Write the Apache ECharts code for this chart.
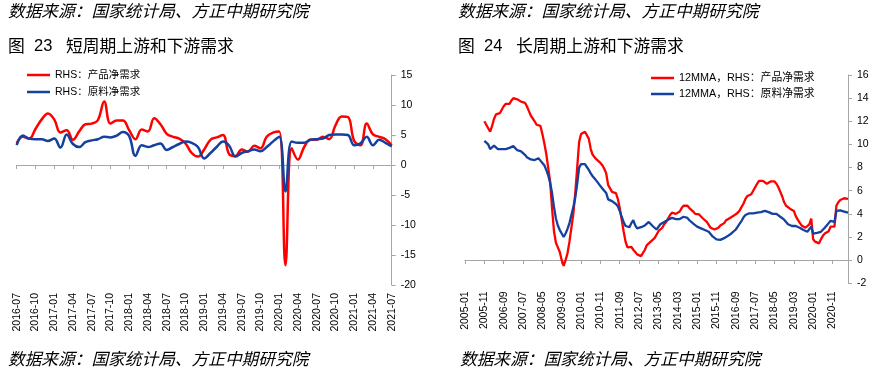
<!DOCTYPE html>
<html><head><meta charset="utf-8">
<script src="https://cdn.jsdelivr.net/npm/echarts@6/dist/echarts.min.js"></script>
<style>html,body{margin:0;padding:0;background:#fff}#c{width:884px;height:382px}</style>
</head><body><div id="c"></div>
<script>
// ---------- data ----------
const shortStart = [2016, 7], shortEnd = [2021, 7];
const longStart = [2005, 1], longEnd = [2021, 7];
const shortProduct = [3.6,4.7,4.4,6.0,7.6,8.6,7.6,5.4,5.8,4.2,5.6,6.8,6.9,7.5,10.6,6.9,7.4,7.4,5.8,4.3,5.9,5.6,7.8,6.8,5.2,4.7,4.4,3.6,2.0,1.4,2.6,4.2,4.6,5.0,1.8,1.5,2.6,2.2,3.2,2.8,4.7,5.4,5.6,-16.7,2.8,0.9,3.0,4.2,4.2,4.7,4.3,6.6,8.1,8.0,4.0,3.3,6.9,5.1,4.7,4.3,3.3];
const shortMaterial = [3.3,4.9,4.4,4.3,4.3,4.0,4.4,2.9,5.1,3.5,3.0,3.8,4.1,4.3,4.7,4.6,4.9,5.5,4.8,1.5,3.3,3.0,3.3,3.6,2.5,3.0,3.5,3.9,3.7,3.0,1.1,2.0,3.0,3.9,3.2,1.4,2.0,2.3,2.6,2.3,3.0,3.9,4.7,-4.4,3.9,3.7,3.7,4.2,4.3,4.4,5.0,5.1,5.1,5.0,3.3,3.6,4.7,3.3,4.2,3.7,3.1];
const longFirstMonth = [2005, 11];
const longProduct = [12.0,11.7,11.4,11.1,11.6,12.2,12.6,12.6,12.7,13.0,13.3,13.5,13.6,13.5,13.8,14.0,14.1,13.9,13.8,13.7,13.8,13.6,13.3,12.9,12.5,12.4,12.0,11.7,11.8,11.6,10.9,10.1,9.2,8.0,6.8,4.5,2.5,1.5,1.1,0.7,0.0,-0.5,0.0,0.6,1.6,2.8,4.0,5.8,8.0,10.2,10.9,11.0,11.1,11.1,10.5,9.6,9.1,8.9,8.7,8.6,8.4,8.2,7.9,7.5,6.5,6.2,5.9,5.9,5.8,5.3,4.5,3.5,2.5,1.6,1.1,1.0,1.15,0.9,0.7,0.5,0.4,0.35,0.45,0.9,1.3,1.4,1.6,1.7,1.9,2.2,2.5,2.5,2.8,3.1,3.3,3.6,3.9,4.1,4.1,4.0,4.0,4.2,4.5,4.7,4.75,4.7,4.5,4.35,4.2,4.0,3.9,3.95,3.85,3.6,3.45,3.3,3.05,2.8,2.7,2.65,2.65,2.8,3.0,2.9,3.2,3.45,3.55,3.65,3.75,3.85,3.95,4.1,4.3,4.6,4.9,5.3,5.55,5.55,5.7,6.0,6.3,6.6,6.85,6.95,6.85,6.7,6.6,6.7,6.8,6.85,6.8,6.6,6.3,5.9,5.5,5.0,4.7,4.55,4.45,4.4,4.25,3.8,3.5,3.25,3.0,2.9,2.8,2.8,3.1,3.6,1.8,1.6,1.45,1.45,1.8,2.1,2.3,2.4,2.5,2.9,3.05,2.9,4.7,5.0,5.2,5.35,5.35,5.3,5.3];
const longMaterial = [10.3,10.2,10.0,9.6,9.6,9.9,9.8,9.6,9.7,9.6,9.7,9.6,9.7,9.7,9.8,9.85,9.7,9.5,9.5,9.4,9.3,9.1,8.9,8.8,8.7,8.65,8.65,8.8,8.8,8.6,8.4,8.2,7.8,7.35,6.7,5.8,4.6,3.6,3.0,2.6,2.3,2.0,2.3,2.7,3.2,3.9,4.6,5.4,6.6,8.0,8.3,8.3,8.3,8.05,7.8,7.5,7.25,7.05,6.85,6.7,6.4,6.2,6.1,5.8,5.25,5.15,5.1,5.0,4.85,4.65,4.25,3.75,3.3,2.95,2.8,2.85,3.2,3.45,3.0,2.75,2.8,2.85,2.9,3.0,3.15,3.3,3.15,2.95,2.8,2.65,2.8,3.1,3.2,3.3,3.45,3.5,3.6,3.65,3.7,3.55,3.45,3.55,3.7,3.75,3.8,3.65,3.45,3.3,3.15,3.0,2.9,2.8,2.75,2.65,2.6,2.5,2.45,2.3,2.05,1.9,1.8,1.8,1.75,1.7,1.9,2.0,2.1,2.25,2.35,2.5,2.65,2.9,3.15,3.4,3.7,3.9,4.0,4.05,4.05,4.05,4.05,4.1,4.1,4.15,4.2,4.25,4.3,4.15,4.05,4.0,4.05,4.0,3.85,3.75,3.6,3.5,3.35,3.1,2.95,2.95,3.0,2.95,2.9,2.8,2.7,2.6,2.5,2.45,2.6,2.9,2.3,2.3,2.35,2.35,2.45,2.6,2.8,3.0,3.2,3.4,3.45,3.3,4.25,4.3,4.3,4.3,4.2,4.15,4.1];
const leftTicks = [-20, 15, 5];   // min, max, interval
const rightTicks = [-2, 16, 2];
const names = {
  sP: 'RHS：产品净需求', sM: 'RHS：原料净需求',
  lP: '12MMA，RHS：产品净需求', lM: '12MMA，RHS：原料净需求'
};
const texts = {
  source: '数据来源：国家统计局、方正中期研究院',
  t1num: '23', t1: '短周期上游和下游需求',
  t2num: '24', t2: '长周期上游和下游需求', fig: '图'
};
// ---------- helpers ----------
function monthList(a, b) {
  const out = []; let y = a[0], m = a[1];
  while (y < b[0] || (y === b[0] && m <= b[1])) {
    out.push(y + '-' + (m < 10 ? '0' + m : m)); m++; if (m > 12) { m = 1; y++; }
  }
  return out;
}
const shortCats = monthList(shortStart, shortEnd);
const longCats = monthList(longStart, longEnd);
const pad = longCats.indexOf(longFirstMonth[0] + '-' + (longFirstMonth[1] < 10 ? '0' : '') + longFirstMonth[1]);
const padArr = new Array(pad).fill(null);
const RED = '#FF0000', BLUE = '#1440A0', GREY = '#A6A6A6';
const FONT = '"Liberation Sans", Arial, "Noto Sans CJK SC", sans-serif';
const CJK = '"Noto Sans CJK SC", sans-serif';

function xAxes(gi, cats, interval) {
  return [
    { type: 'category', gridIndex: gi, data: cats, boundaryGap: false, position: 'bottom',
      axisLine: { onZero: true, lineStyle: { color: GREY, width: 1 } },
      axisTick: { show: true, interval: interval, length: 4, lineStyle: { color: GREY } },
      axisLabel: { show: false } },
    { type: 'category', gridIndex: gi, data: cats, boundaryGap: false, position: 'bottom',
      axisLine: { show: false, onZero: false }, axisTick: { show: false },
      axisLabel: { interval: interval, rotate: 90, margin: 8, fontSize: 10.5, color: '#000', fontFamily: FONT } }
  ];
}
function yAxis(gi, t) {
  return { type: 'value', gridIndex: gi, position: 'right', min: t[0], max: t[1], interval: t[2],
    splitLine: { show: false },
    axisLine: { show: true, onZero: false, lineStyle: { color: GREY } },
    axisTick: { show: true, length: 4, inside: false, lineStyle: { color: GREY } },
    axisLabel: { margin: 9, fontSize: 10.5, color: '#000', fontFamily: FONT } };
}
const chart = echarts.init(document.getElementById('c'), null, { renderer: 'canvas' });
const srcFont = 'italic 16.7px ' + CJK;
const titleFont = '16.8px ' + CJK;
chart.setOption({
  animation: false,
  backgroundColor: '#fff',
  grid: [
    { left: 16.7, top: 75, width: 375, height: 210 },
    { left: 465, top: 75, width: 383, height: 208.3 }
  ],
  xAxis: xAxes(0, shortCats, 2).concat(xAxes(1, longCats, 9)),
  yAxis: [yAxis(0, leftTicks), yAxis(1, rightTicks)],
  legend: [
    { data: [names.sP, names.sM], orient: 'vertical', left: 27, top: 69, padding: 0, icon: 'rect', itemWidth: 23, itemHeight: 2.5,
      itemGap: 5, textStyle: { fontSize: 10.5, lineHeight: 12, color: '#000', fontFamily: FONT } },
    { data: [names.lP, names.lM], orient: 'vertical', left: 651, top: 72, padding: 0, icon: 'rect', itemWidth: 23, itemHeight: 2.5,
      itemGap: 4, textStyle: { fontSize: 10.8, lineHeight: 12, color: '#000', fontFamily: FONT } }
  ],
  series: [
    { name: names.sP, type: 'line', xAxisIndex: 0, yAxisIndex: 0, data: shortProduct, smooth: 0.4, symbol: 'none',
      lineStyle: { color: RED, width: 2.5 }, itemStyle: { color: RED }, z: 3 },
    { name: names.sM, type: 'line', xAxisIndex: 0, yAxisIndex: 0, data: shortMaterial, smooth: 0.4, symbol: 'none',
      lineStyle: { color: BLUE, width: 2.5 }, itemStyle: { color: BLUE }, z: 4 },
    { name: names.lP, type: 'line', xAxisIndex: 2, yAxisIndex: 1, data: padArr.concat(longProduct), symbol: 'none',
      lineStyle: { color: RED, width: 2.3 }, itemStyle: { color: RED } },
    { name: names.lM, type: 'line', xAxisIndex: 2, yAxisIndex: 1, data: padArr.concat(longMaterial), symbol: 'none',
      lineStyle: { color: BLUE, width: 2.3 }, itemStyle: { color: BLUE } }
  ],
  graphic: [
    { type: 'text', left: 8, top: 2, style: { text: texts.source, font: srcFont, fill: '#000' } },
    { type: 'text', left: 458, top: 2, style: { text: texts.source, font: srcFont, fill: '#000' } },
    { type: 'text', left: 8, top: 350, style: { text: texts.source, font: srcFont, fill: '#000' } },
    { type: 'text', left: 460, top: 350, style: { text: texts.source, font: srcFont, fill: '#000' } },
    { type: 'text', left: 8, top: 37, style: { text: texts.fig, font: titleFont, fill: '#000' } },
    { type: 'text', left: 34, top: 38, style: { text: texts.t1num, font: '16.5px ' + FONT, fill: '#000' } },
    { type: 'text', left: 66, top: 37, style: { text: texts.t1, font: titleFont, fill: '#000' } },
    { type: 'text', left: 458, top: 37, style: { text: texts.fig, font: titleFont, fill: '#000' } },
    { type: 'text', left: 484, top: 38, style: { text: texts.t2num, font: '16.5px ' + FONT, fill: '#000' } },
    { type: 'text', left: 516, top: 37, style: { text: texts.t2, font: titleFont, fill: '#000' } }
  ]
});
</script></body></html>
